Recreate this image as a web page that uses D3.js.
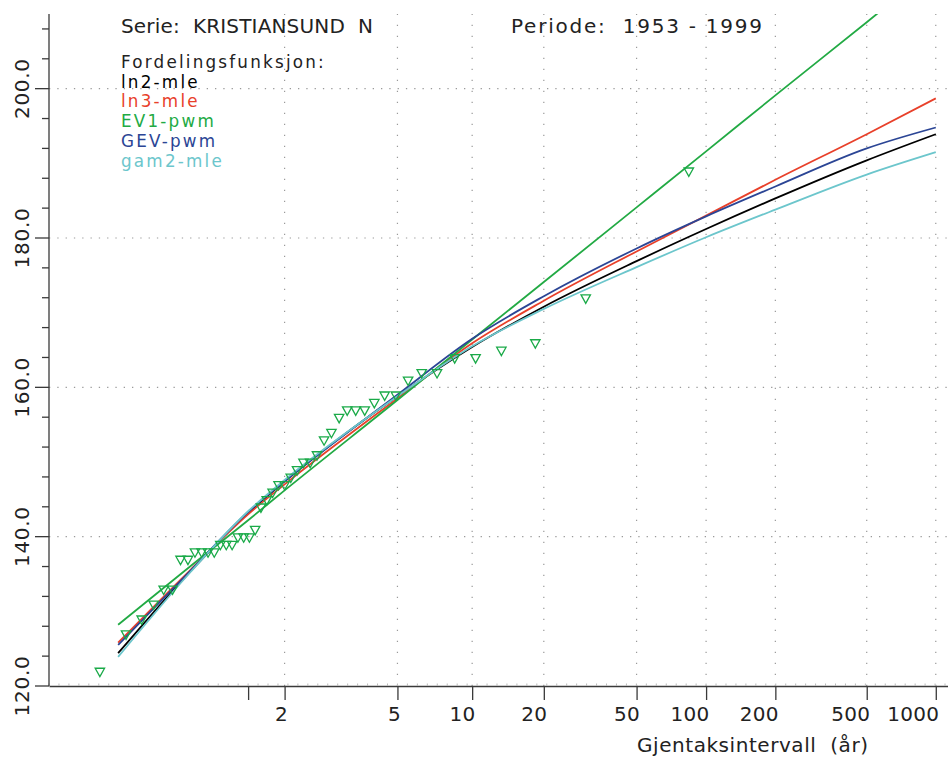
<!DOCTYPE html>
<html>
<head>
<meta charset="utf-8">
<script src="https://cdn.jsdelivr.net/npm/d3@7"></script>
<style>
  body { margin: 0; background: #ffffff; }
  text { font-family: "DejaVu Sans", sans-serif; }
  .pre { white-space: pre; }
</style>
</head>
<body>
<svg id="chart" width="948" height="758"></svg>
<script>
// ---------------- DATA ----------------
const seriesName = "KRISTIANSUND N";
const periodText = "1953 - 1999";

// Observed annual maxima, sorted from largest to smallest (1953-1999, n = 47)
const observed = [189, 172, 166, 165, 164, 164, 162, 162, 161, 159, 159, 158, 157, 157, 157,
  156, 154, 153, 151, 150, 150, 149, 148, 147, 147, 146, 145, 144, 141, 140, 140, 140,
  139, 139, 139, 138, 138, 138, 138, 137, 137, 133, 133, 131, 129, 127, 122];

// Return periods (years) at which the fitted curves were read
const returnPeriods = [1.0256, 1.2, 1.582, 2, 5, 10, 20, 50, 100, 200, 500, 1000];
const ln2mle  = [124.4, 135.3, 143.2, 147.4, 158.8, 165.4, 170.8, 176.9, 181.2, 185.3, 190.4, 193.9];
const ln3mle  = [125.8, 135.5, 143.0, 147.0, 158.5, 165.9, 171.6, 178.2, 183.0, 187.8, 193.9, 198.7];
const ev1pwm  = [128.2, 136.0, 142.2, 146.2, 158.3, 166.4, 174.1, 184.1, 191.6, 199.1, 208.9, 216.4];
const gevpwm  = [125.5, 135.4, 143.3, 147.4, 159.0, 166.5, 172.2, 178.6, 182.9, 186.9, 192.0, 194.8];
const gam2mle = [123.9, 135.2, 143.4, 147.6, 158.8, 165.5, 170.5, 176.1, 180.1, 183.8, 188.5, 191.5];

const seriesNames  = ["ln2-mle", "ln3-mle", "EV1-pwm", "GEV-pwm", "gam2-mle"];
const seriesValues = [ln2mle, ln3mle, ev1pwm, gevpwm, gam2mle];
const seriesColors = ["#000000", "#e8402a", "#22aa44", "#2b4595", "#6cc6cc"];

const xTickPeriods = [2, 5, 10, 20, 50, 100, 200, 500, 1000];
const yTicks = [120, 140, 160, 180, 200];

// ---------------- SETUP ----------------
const svg = d3.select("#chart");
const pLeft = 49, pRight = 948, pTop = 14, pBottom = 686;

// Gumbel reduced variate for a return period
const gumbel = T => -Math.log(-Math.log(1 - 1 / T));

const x = d3.scaleLinear().domain([-2, 7.03]).range([pLeft, pRight]);
const y = d3.scaleLinear().domain([120, 210]).range([pBottom, pTop]);

svg.append("defs").append("clipPath").attr("id", "plotclip")
  .append("rect").attr("x", pLeft).attr("y", pTop)
  .attr("width", pRight - pLeft).attr("height", pBottom - pTop);

// ---------------- GRID ----------------
const grid = svg.append("g");
grid.selectAll("line.vg").data(xTickPeriods).join("line")
  .attr("x1", d => x(gumbel(d))).attr("x2", d => x(gumbel(d)))
  .attr("y1", pBottom).attr("y2", pTop)
  .attr("stroke", "#9a9a9a").attr("stroke-width", 1.2)
  .attr("stroke-dasharray", "1.3,9.7");
grid.selectAll("line.hg").data(yTicks.filter(d => d > 120)).join("line")
  .attr("x1", pLeft).attr("x2", pRight)
  .attr("y1", d => y(d)).attr("y2", d => y(d))
  .attr("stroke", "#9a9a9a").attr("stroke-width", 1.2)
  .attr("stroke-dasharray", "1.3,7");

// ---------------- AXES ----------------
const axisColor = "#3a3a3a";
const xAxisG = svg.append("g").attr("transform", `translate(0,${pBottom})`);
const xAxis = d3.axisBottom(x)
  .tickValues([0].concat(xTickPeriods.map(gumbel)))
  .tickSizeInner(14).tickSizeOuter(0).tickPadding(7)
  .tickFormat((d, i) => i === 0 ? "" : String(xTickPeriods[i - 1]));
xAxisG.call(xAxis);
xAxisG.select(".domain").attr("stroke", axisColor).attr("stroke-width", 1.3);
xAxisG.selectAll(".tick line").attr("stroke", axisColor).attr("stroke-width", 1.3);
xAxisG.selectAll(".tick text")
  .attr("font-family", "DejaVu Sans").attr("font-size", 20)
  .attr("fill", "#222").attr("text-anchor", "end").attr("dx", 3)
  .attr("letter-spacing", 0.3);

// x minor ticks (every 0.1 of reduced variate)
svg.append("g").selectAll("line").data(d3.range(-20, 71).map(v => v / 10)).join("line")
  .attr("x1", d => x(d)).attr("x2", d => x(d))
  .attr("y1", pBottom).attr("y2", pBottom - 2.5)
  .attr("stroke", "#bbbbbb").attr("stroke-width", 1);

// y axis
svg.append("line").attr("x1", pLeft).attr("x2", pLeft).attr("y1", pTop).attr("y2", pBottom)
  .attr("stroke", axisColor).attr("stroke-width", 1.3);
const yMinor = d3.range(120, 211, 4).filter(v => v % 20 !== 0);
svg.append("g").selectAll("line").data(yMinor).join("line")
  .attr("x1", pLeft - 7).attr("x2", pLeft)
  .attr("y1", d => y(d)).attr("y2", d => y(d))
  .attr("stroke", axisColor).attr("stroke-width", 1.3);
svg.append("g").selectAll("line").data(yTicks).join("line")
  .attr("x1", pLeft - 14).attr("x2", pLeft)
  .attr("y1", d => y(d)).attr("y2", d => y(d))
  .attr("stroke", axisColor).attr("stroke-width", 1.3);
svg.append("g").selectAll("text").data(yTicks).join("text")
  .attr("transform", d => `translate(28.5,${y(d)}) rotate(-90)`)
  .attr("text-anchor", "middle")
  .attr("font-size", 20).attr("letter-spacing", 0.7).attr("fill", "#222")
  .text(d => d3.format(".1f")(d));

// x axis title
svg.append("text").attr("class", "pre").attr("x", 868).attr("y", 752)
  .attr("text-anchor", "end").attr("font-size", 20).attr("fill", "#222")
  .attr("textLength", 231).attr("lengthAdjust", "spacing")
  .text("Gjentaksintervall  (år)");

// ---------------- CURVES ----------------
const plot = svg.append("g").attr("clip-path", "url(#plotclip)");
const line = d3.line()
  .x(d => x(gumbel(d[0])))
  .y(d => y(d[1]))
  .curve(d3.curveMonotoneX);

seriesValues.forEach((vals, k) => {
  plot.append("path")
    .datum(returnPeriods.map((T, i) => [T, vals[i]]))
    .attr("d", line)
    .attr("fill", "none")
    .attr("stroke", seriesColors[k])
    .attr("stroke-width", 1.8);
});

// ---------------- OBSERVATIONS (Gringorten plotting positions) ----------------
const n = observed.length;
const obsPoints = observed.map((v, i) => {
  const p = (i + 1 - 0.44) / (n + 0.12);   // exceedance probability
  return [-Math.log(-Math.log(1 - p)), v];
});
const tri = "M-4.7,-2.8 L4.7,-2.8 L0,5.6 Z";
plot.selectAll("path.obs").data(obsPoints).join("path")
  .attr("class", "obs")
  .attr("transform", d => `translate(${x(d[0])},${y(d[1])})`)
  .attr("d", tri)
  .attr("fill", "none")
  .attr("stroke", "#1aaa48")
  .attr("stroke-width", 1.3);

// ---------------- TITLES / LEGEND ----------------
svg.append("text").attr("class", "pre").attr("x", 121).attr("y", 33)
  .attr("font-size", 20).attr("fill", "#222")
  .attr("textLength", 252).attr("lengthAdjust", "spacing")
  .text("Serie:  " + seriesName.replace(" ", "  "));
svg.append("text").attr("class", "pre").attr("x", 511).attr("y", 33)
  .attr("font-size", 20).attr("fill", "#222")
  .attr("textLength", 251).attr("lengthAdjust", "spacing")
  .text("Periode:  " + periodText);

// Legend: heading plus one line per distribution
const legendLines = ["Fordelingsfunksjon:"].concat(seriesNames);
const legendFills = ["#222"].concat(seriesColors);
const legendTop = 68, legendStep = 19.7;
svg.append("g").selectAll("text").data(legendLines).join("text")
  .attr("x", 121).attr("y", (d, i) => legendTop + i * legendStep)
  .attr("font-size", 16.8).attr("letter-spacing", 2.2)
  .attr("fill", (d, i) => legendFills[i])
  .text(d => d);
</script>
</body>
</html>
